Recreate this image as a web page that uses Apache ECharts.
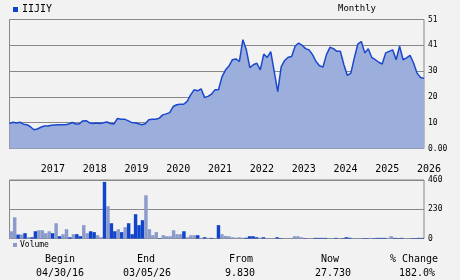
<!DOCTYPE html>
<html><head><meta charset="utf-8">
<script src="https://cdn.jsdelivr.net/npm/echarts@6/dist/echarts.min.js"></script>
<style>html,body{margin:0;padding:0;background:#f2f2f2;}#c{width:460px;height:280px;}</style>
</head><body><div id="c"></div>
<script>
// ---- data ----
var startYear = 2016, startMonth = 4, monthCount = 120;
var months = [];
for (var k = 0; k < monthCount; k++) {
  var m = (startMonth - 1 + k) % 12 + 1, y = startYear + Math.floor((startMonth - 1 + k) / 12);
  months.push(y + '-' + (m < 10 ? '0' + m : '' + m));
}
var price = [9.83,10.4,10.1,10.4,9.6,9.4,8.6,7.4,7.7,8.4,8.9,8.9,9.2,9.3,9.4,9.4,9.4,9.7,10.3,9.7,
  9.7,10.9,11.0,10.1,9.9,10.1,9.9,10.2,10.5,9.9,9.7,11.9,11.6,11.6,11.0,10.3,10.2,9.8,9.4,9.8,
  11.4,11.6,11.6,12.0,13.3,13.7,14.2,16.6,17.3,17.5,17.5,18.6,21.2,23.2,22.8,23.6,20.2,20.6,21.5,23.2,
  23.2,28.3,31.0,32.6,35.1,35.4,34.4,43.0,39.0,32.0,33.1,33.7,31.1,37.3,36.0,38.3,30.4,22.5,32.3,34.8,
  36.1,36.4,40.4,41.7,40.8,39.5,39.0,37.1,34.4,32.7,32.2,37.1,40.0,39.5,38.4,38.4,33.1,28.9,29.8,35.8,
  41.3,42.3,37.8,39.4,36.0,35.1,34.1,33.4,37.8,38.4,39.0,35.1,40.4,35.1,35.8,36.8,33.8,29.8,28.1,27.73];
var volume = [57,167,31,31,42,10,10,57,65,65,42,57,42,120,18,34,73,10,34,34,
  18,105,42,57,50,26,10,445,254,120,57,73,50,89,120,34,191,105,144,340,
  73,26,50,3,26,18,18,65,34,34,57,10,26,26,26,5,10,5,5,3,
  105,34,20,18,10,6,10,6,6,18,18,10,6,10,3,3,3,10,3,3,
  3,3,18,18,10,3,3,3,5,5,5,5,3,3,5,3,3,10,6,3,
  3,3,3,3,5,3,5,5,5,5,18,5,3,5,3,3,3,3,5,5];
// 1 = dark (up), 0 = light
var volumeUp = [0,0,1,0,1,0,1,1,0,0,0,0,1,0,1,0,0,1,0,1,
  1,0,0,1,1,0,0,1,0,1,1,0,1,0,1,1,1,1,1,0,
  0,0,0,1,0,0,0,0,0,0,1,0,0,0,1,0,1,0,1,0,
  1,0,0,0,0,0,0,0,1,1,1,1,0,1,0,0,0,1,1,0,
  0,0,0,0,0,1,0,0,1,1,1,1,0,0,1,0,1,1,1,0,
  0,0,1,1,0,1,1,1,1,0,0,1,1,1,0,0,1,1,1,1];
var priceTicks = ['0.00','10','20','30','41','51'];
var volumeTicks = ['0','230','460'];
var tableHeads = ['Begin','End','From','Now','% Change'];
var tableValues = ['04/30/16','03/05/26','9.830','27.730','182.0%'];
var ticker = 'IIJIY', period = 'Monthly', volumeName = 'Volume';

// ---- chart ----
var F = 'DejaVu Sans Mono';
var DARK = '#1144cc', LIGHT = '#8b9bcc';
var chart = echarts.init(document.getElementById('c'), null, {renderer: 'canvas'});
var headX = [60, 146, 241, 330, 414], valX = [60, 147, 240, 333, 417];
var graphics = [
  {type:'rect', shape:{x:13,y:7,width:5,height:5}, style:{fill:DARK}},
  {type:'text', left:22, top:4, style:{text:ticker, font:'10px "'+F+'"', fill:'#000'}},
  {type:'text', style:{text:period, x:357, y:9, align:'center', verticalAlign:'middle', font:'9px "'+F+'"', fill:'#000'}},
  {type:'rect', shape:{x:13,y:243,width:4,height:4}, style:{fill:LIGHT}},
  {type:'text', style:{text:volumeName, x:20, y:245, verticalAlign:'middle', font:'8px "'+F+'"', fill:'#000'}}
];
tableHeads.forEach(function(t,i){
  graphics.push({type:'text', style:{text:t, x:headX[i], y:259, align:'center', verticalAlign:'middle', font:'10px "'+F+'"', fill:'#000'}});
});
tableValues.forEach(function(t,i){
  graphics.push({type:'text', style:{text:t, x:valX[i], y:273, align:'center', verticalAlign:'middle', font:'10px "'+F+'"', fill:'#000'}});
});

chart.setOption({
  animation: false,
  backgroundColor: '#f2f2f2',
  grid: [
    {left: 9.5, right: 36, top: 19.5, height: 129, show: true, borderColor: '#888', borderWidth: 1},
    {left: 9.5, right: 36, top: 180, height: 58.5, show: true, borderColor: '#888', borderWidth: 1}
  ],
  xAxis: [
    {type:'category', gridIndex:0, data:months, boundaryGap:false,
     axisLine:{show:false}, axisTick:{show:false}, splitLine:{show:false},
     axisLabel:{interval:function(i,v){return v.slice(5)==='01';}, formatter:function(v){return v.slice(0,4);},
       align:'left', margin:16, fontFamily:F, fontSize:10, color:'#000', hideOverlap:false}},
    {type:'category', gridIndex:1, data:months, boundaryGap:true,
     axisLine:{show:false}, axisTick:{show:false}, axisLabel:{show:false}, splitLine:{show:false}}
  ],
  yAxis: [
    {type:'value', gridIndex:0, position:'right', min:0, max:51, interval:10.2,
     axisLine:{show:false}, axisTick:{show:false},
     splitLine:{show:true, lineStyle:{color:'#888', width:1}},
     axisLabel:{margin:4, fontFamily:F, fontSize:8, color:'#000',
       formatter:function(v){return priceTicks[Math.round(v/10.2)];}}},
    {type:'value', gridIndex:1, position:'right', min:0, max:460, interval:230,
     axisLine:{show:false}, axisTick:{show:false},
     splitLine:{show:true, lineStyle:{color:'#888', width:1}},
     axisLabel:{margin:4, fontFamily:F, fontSize:8, color:'#000',
       formatter:function(v){return volumeTicks[Math.round(v/230)];}}}
  ],
  series: [
    {type:'line', xAxisIndex:0, yAxisIndex:0, data:price, showSymbol:false, symbol:'none',
     lineStyle:{color:'#1a48cc', width:1.5}, areaStyle:{color:'#9cafdc', opacity:1}},
    {type:'bar', xAxisIndex:1, yAxisIndex:1, barCategoryGap:'0%', barWidth:'100%',
     data: volume.map(function(v,i){return {value:v, itemStyle:{color: volumeUp[i] ? DARK : LIGHT}};})}
  ],
  graphic: graphics
});
</script></body></html>
